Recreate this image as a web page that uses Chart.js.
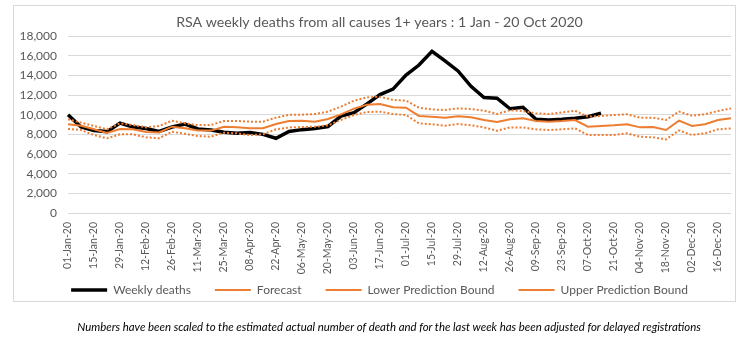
<!DOCTYPE html>
<html>
<head>
<meta charset="utf-8">
<script src="https://cdn.jsdelivr.net/npm/chart.js@4.4.0/dist/chart.umd.min.js"></script>
<style>
  html, body { margin: 0; padding: 0; background: #ffffff; overflow: hidden; }
  #wrap { position: absolute; left: 0; top: 0; width: 750px; height: 339px; }
  #foot { position: absolute; left: 0; top: 320px; width: 778px; height: 14px; line-height: 14px;
          text-align: center; white-space: nowrap; font-family: Lato, 'Open Sans', sans-serif;
          font-style: italic; font-size: 11.4px; color: #000000; }
</style>
</head>
<body>
<div id="wrap"><canvas id="c" width="750" height="339"></canvas></div>
<div id="foot"></div>
<script>
const weeks = ["01-Jan-20","08-Jan-20","15-Jan-20","22-Jan-20","29-Jan-20","05-Feb-20","12-Feb-20","19-Feb-20","26-Feb-20","04-Mar-20","11-Mar-20","18-Mar-20","25-Mar-20","01-Apr-20","08-Apr-20","15-Apr-20","22-Apr-20","29-Apr-20","06-May-20","13-May-20","20-May-20","27-May-20","03-Jun-20","10-Jun-20","17-Jun-20","24-Jun-20","01-Jul-20","08-Jul-20","15-Jul-20","22-Jul-20","29-Jul-20","05-Aug-20","12-Aug-20","19-Aug-20","26-Aug-20","02-Sep-20","09-Sep-20","16-Sep-20","23-Sep-20","30-Sep-20","07-Oct-20","14-Oct-20","21-Oct-20","28-Oct-20","04-Nov-20","11-Nov-20","18-Nov-20","25-Nov-20","02-Dec-20","09-Dec-20","16-Dec-20","23-Dec-20"];

const weeklyDeaths = [10000,8750,8400,8280,9150,8750,8600,8300,8750,9050,8550,8450,8220,8120,8180,8000,7600,8300,8480,8600,8800,9850,10200,11100,12050,12600,14030,15050,16450,15480,14450,12880,11750,11680,10600,10750,9530,9460,9530,9630,9800,10150];

const forecast = [9020,8880,8510,8150,8550,8520,8250,8200,8780,8620,8400,8380,8780,8720,8620,8620,9050,9360,9390,9290,9560,10030,10610,11020,11090,10750,10710,9870,9800,9700,9830,9730,9460,9250,9530,9630,9360,9290,9360,9460,8780,8850,8920,9020,8710,8750,8440,9390,8850,9020,9460,9630];

const lowerBound = [8550,8440,7930,7600,8000,8000,7700,7600,8270,8050,7830,7760,8170,8100,7930,8000,8510,8700,8750,8780,8910,9460,9970,10270,10310,10070,9970,9120,9020,8880,9050,8920,8710,8370,8700,8700,8510,8440,8510,8610,7930,7930,7930,8100,7760,7700,7490,8400,7930,8100,8510,8610];

const upperBound = [9530,9190,8850,8510,9120,8950,8710,8850,9390,9120,8950,8950,9360,9360,9290,9290,9700,9980,10000,10070,10310,10820,11430,11760,11830,11500,11430,10710,10540,10470,10640,10580,10410,10070,10450,10370,10140,10070,10240,10410,9800,9870,9970,10040,9700,9700,9460,10310,9900,10040,10370,10640];

const yTicks = [0,2000,4000,6000,8000,10000,12000,14000,16000,18000];

const titleText = "RSA weekly deaths from all causes 1+ years : 1 Jan - 20 Oct 2020";
const footnoteText = "Numbers have been scaled to the estimated actual number of death and for the last week has been adjusted for delayed registrations";

document.getElementById('foot').textContent = footnoteText;

const FONT = "Lato, 'Open Sans', sans-serif";
const GREY = "#595959";
const ORANGE = "#ED7D31";

const borderPlugin = {
  id: 'frame',
  beforeDraw(chart) {
    const ctx = chart.ctx;
    ctx.save();
    ctx.fillStyle = '#ffffff';
    ctx.fillRect(0, 0, chart.width, chart.height);
    ctx.strokeStyle = '#d9d9d9';
    ctx.lineWidth = 1;
    ctx.strokeRect(13.5, 5.5, 722, 296);
    ctx.restore();
  }
};

new Chart(document.getElementById('c'), {
  type: 'line',
  data: {
    labels: weeks,
    datasets: [
      { label: 'Weekly deaths', data: weeklyDeaths, borderColor: '#000000', backgroundColor: '#000000', borderWidth: 3.5, pointRadius: 0, tension: 0, order: 1 },
      { label: 'Forecast', data: forecast, borderColor: ORANGE, backgroundColor: ORANGE, borderWidth: 2, pointRadius: 0, tension: 0, order: 0 },
      { label: 'Lower Prediction Bound', data: lowerBound, borderColor: ORANGE, backgroundColor: ORANGE, borderWidth: 2, borderDash: [2, 2], pointRadius: 0, tension: 0, order: 0 },
      { label: 'Upper Prediction Bound', data: upperBound, borderColor: ORANGE, backgroundColor: ORANGE, borderWidth: 2, borderDash: [2, 2], pointRadius: 0, tension: 0, order: 0 }
    ]
  },
  options: {
    responsive: false,
    animation: false,
    devicePixelRatio: 1,
    layout: { padding: { left: 9, right: 0, top: 0, bottom: 33 } },
    plugins: {
      title: {
        display: true, text: titleText, color: GREY,
        font: { family: FONT, size: 14.2, weight: 'normal', lineHeight: 1.2 },
        padding: { top: 13.5, bottom: 5.5 }
      },
      legend: {
        position: 'bottom',
        labels: {
          usePointStyle: true, pointStyle: 'line', pointStyleWidth: 36,
          color: GREY, font: { family: FONT, size: 12 }, padding: 24,
          sort: (a, b) => a.datasetIndex - b.datasetIndex
        }
      },
      tooltip: { enabled: false }
    },
    scales: {
      x: {
        grid: { display: false, drawTicks: false },
        border: { display: false },
        ticks: {
          autoSkip: false, minRotation: 90, maxRotation: 90, padding: 9,
          color: GREY, font: { family: FONT, size: 10.5 },
          callback: function(v, i) { return i % 2 === 0 ? weeks[i] : ''; }
        },
        afterFit(s) {
          s.paddingLeft = 0; s.paddingRight = 19; s.height = 47;
          s._computeLabelArea = () => undefined;
        }
      },
      y: {
        min: 0, max: 18000,
        afterBuildTicks(s) { s.ticks = yTicks.map(v => ({ value: v })); },
        grid: { color: '#d9d9d9', lineWidth: 1, drawTicks: false },
        border: { display: false },
        ticks: {
          padding: 11, color: GREY, font: { family: FONT, size: 12 },
          callback: v => v.toLocaleString('en-US')
        },
        afterFit(s) { s.width = 59; }
      }
    }
  },
  plugins: [borderPlugin]
});
</script>
</body>
</html>
